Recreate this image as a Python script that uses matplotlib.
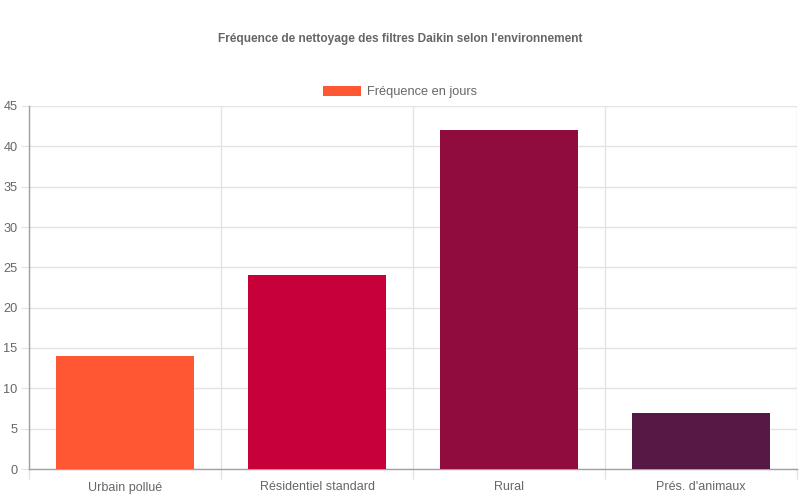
import matplotlib
matplotlib.use("Agg")
import matplotlib.pyplot as plt
from matplotlib.patches import Patch
import numpy as np

categories = ["Urbain pollué", "Résidentiel standard", "Rural", "Prés. d'animaux"]
values = [14, 24, 42, 7]
colors = ["#FF5733", "#C70039", "#900C3F", "#581845"]
yticks = [0, 5, 10, 15, 20, 25, 30, 35, 40, 45]
title = "Fréquence de nettoyage des filtres Daikin selon l'environnement"
legend_label = "Fréquence en jours"

plt.rcParams['font.family'] = ['Liberation Sans', 'DejaVu Sans']

fig = plt.figure(figsize=(8, 5), dpi=100)
ax = fig.add_axes([29/800, 31/500, 768/800, 363/500])

x = np.arange(len(categories))
ax.bar(x, values, width=0.72, color=colors, zorder=3)

ax.set_xlim(-0.5, len(categories) - 0.5)
ax.set_ylim(0, 45)
ax.set_yticks(yticks)
ax.set_yticklabels([str(v) for v in yticks])
ax.set_xticks(x)
ax.set_xticklabels(categories)
ax.set_xticks(np.arange(-0.5, len(categories), 1.0), minor=True)

grid_c = "#e3e3e3"
ax.grid(axis='y', which='major', color=grid_c, linewidth=1, zorder=0)
ax.grid(axis='x', which='minor', color=grid_c, linewidth=1, zorder=0)
ax.tick_params(axis='x', which='major', length=0, labelsize=9, labelcolor="#666666", pad=9)
ax.tick_params(axis='x', which='minor', length=7.2, color=grid_c, width=1)
ax.tick_params(axis='y', which='major', length=5.8, color=grid_c, labelsize=9.2, labelcolor="#666666", pad=2.5)

for s in ['top', 'right']:
    ax.spines[s].set_visible(False)
for s in ['left', 'bottom']:
    ax.spines[s].set_color("#a0a0a0")
    ax.spines[s].set_linewidth(1)

fig.text(0.5, 1 - 39/500, title, ha='center', va='center', fontsize=8.6, fontweight='bold', color="#666666")

handle = Patch(facecolor=colors[0], edgecolor='none')
fig.legend([handle], [legend_label], loc='center', bbox_to_anchor=(0.5, 1 - 92/500),
           frameon=False, fontsize=9.2, labelcolor="#666666", handlelength=3.0, handleheight=0.85,
           handletextpad=0.5)

fig.savefig("out.png", dpi=100)
